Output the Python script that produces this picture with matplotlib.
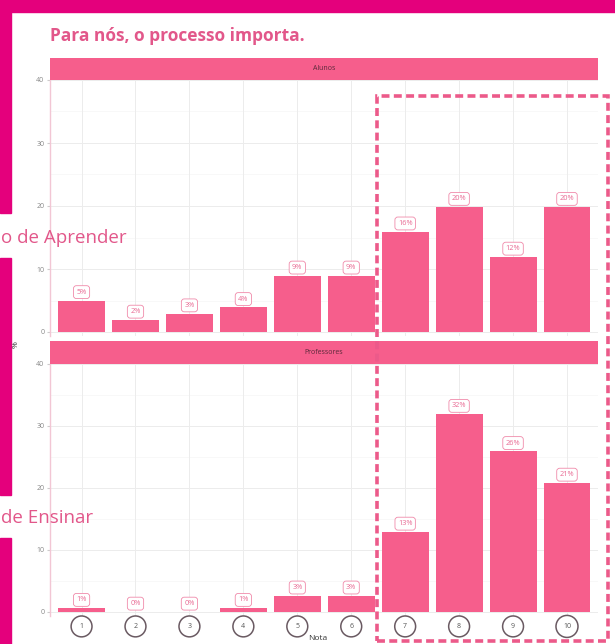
import matplotlib
matplotlib.use("Agg")
import matplotlib.pyplot as plt
from matplotlib.patches import Rectangle

notas = [1, 2, 3, 4, 5, 6, 7, 8, 9, 10]
nota_labels = ["1", "2", "3", "4", "5", "6", "7", "8", "9", "10"]
alunos = [5.0, 1.9, 2.9, 3.9, 8.9, 8.9, 15.9, 19.8, 11.9, 19.8]
alunos_lbl = ["5%", "2%", "3%", "4%", "9%", "9%", "16%", "20%", "12%", "20%"]
profs = [0.6, 0.0, 0.0, 0.6, 2.6, 2.6, 12.9, 31.9, 25.9, 20.8]
profs_lbl = ["1%", "0%", "0%", "1%", "3%", "3%", "13%", "32%", "26%", "21%"]
panels = ["Alunos", "Professores"]
yticks = [0, 10, 20, 30, 40]

W, H = 615, 644
MAG = "#E4007C"
BAR = "#F65E8C"
PINK_TXT = "#E2578A"

plt.rcParams['font.family'] = ['Open Sans', 'DejaVu Sans']
fig = plt.figure(figsize=(W / 100, H / 100), dpi=100)

def fx(px):
    return px / W

def fy(py):
    return 1 - py / H

def frect(x0, y0, x1, y1, **kw):
    fig.patches.append(Rectangle((fx(x0), fy(y1)), fx(x1) - fx(x0), fy(y0) - fy(y1),
                                 transform=fig.transFigure, **kw))

# magenta frame
frect(0, 0, W, 12, color=MAG, zorder=0)
frect(0, 0, 11, 213, color=MAG, zorder=0)
frect(0, 258, 11, 495, color=MAG, zorder=0)
frect(0, 538, 11, H, color=MAG, zorder=0)

fig.text(fx(50), fy(36), "Para nós, o processo importa.", color=PINK_TXT,
         fontsize=12.5, fontweight="bold", ha="left", va="center")

# panels: (strip top, strip bottom/plot top, plot bottom, y of zero)
geoms = [(58, 80, 336, 332), (341, 364, 616, 612)]
datas = [(alunos, alunos_lbl), (profs, profs_lbl)]
x0p, x1p = 50, 598
xlim = (0.415, 10.575)

for (st, pt, pb, z), (vals, lbls), name in zip(geoms, datas, panels):
    ax = fig.add_axes([fx(x0p), fy(pb), fx(x1p) - fx(x0p), fy(pt) - fy(pb)])
    scale = (z - pt) / 40.0
    ymin = -(pb - z) / scale
    ax.set_xlim(*xlim)
    ax.set_ylim(ymin, 40)
    ax.set_axisbelow(True)
    for y in [5, 15, 25, 35]:
        ax.axhline(y, color="#f6f6f6", lw=0.5, zorder=0)
    ax.grid(True, color="#ececec", lw=0.7)
    ax.bar(notas, vals, width=0.87, color=BAR, zorder=2)
    for x, v, l in zip(notas, vals, lbls):
        ax.annotate(l, (x, v), xytext=(0, 3.5), textcoords="offset points",
                    ha="center", va="bottom", fontsize=5.3, color="#E86A93",
                    bbox=dict(boxstyle="round,pad=0.4", fc="white", ec="#F08AAA", lw=0.6),
                    zorder=3)
    ax.set_yticks(yticks)
    ax.set_yticklabels([str(t) for t in yticks], fontsize=5, color="#888888")
    ax.tick_params(axis="y", length=2, color="#cccccc", pad=2)
    ax.set_xticks(notas)
    ax.tick_params(axis="x", length=0)
    ax.set_xticklabels([])
    for s in ["top", "right", "bottom"]:
        ax.spines[s].set_visible(False)
    ax.spines["left"].set_color("#f2c6d4")
    ax.spines["left"].set_linewidth(1.0)
    # strip
    sax = fig.add_axes([fx(x0p), fy(pt), fx(x1p) - fx(x0p), fy(st) - fy(pt)])
    sax.set_facecolor(BAR)
    sax.set_xticks([])
    sax.set_yticks([])
    for s in sax.spines.values():
        s.set_visible(False)
    sax.text(0.5, 0.5, name, transform=sax.transAxes, ha="center", va="center",
             fontsize=5, color="#5a2a3a")
    last_ax = ax

# circled x tick labels on bottom panel
for x, l in zip(notas, nota_labels):
    last_ax.annotate(l, (x, 0), xycoords=("data", "axes fraction"), xytext=(0, -7.5),
                     textcoords="offset points", ha="center", va="center",
                     fontsize=5, color="#555555", annotation_clip=False,
                     bbox=dict(boxstyle="circle,pad=1.0", fc="white", ec="#6a5a62", lw=1.1))

fig.text(fx(318), fy(638), "Nota", fontsize=6, color="#333333", ha="center", va="center")
fig.text(fx(16), fy(345), "%", fontsize=6, color="#333333", ha="center", va="center",
         rotation=90)

# side labels at the left edge
fig.text(fx(1), fy(238), "o de Aprender", color=PINK_TXT, fontsize=13.5,
         ha="left", va="center")
fig.text(fx(1), fy(518), "de Ensinar", color=PINK_TXT, fontsize=13.5,
         ha="left", va="center")

# dashed highlight box
frect(377, 96, 608, 641, fill=False, ec="#EC5A8A", lw=2.6, ls=(0, (2.2, 1.2)), zorder=5)

fig.savefig("out.png", dpi=100)
